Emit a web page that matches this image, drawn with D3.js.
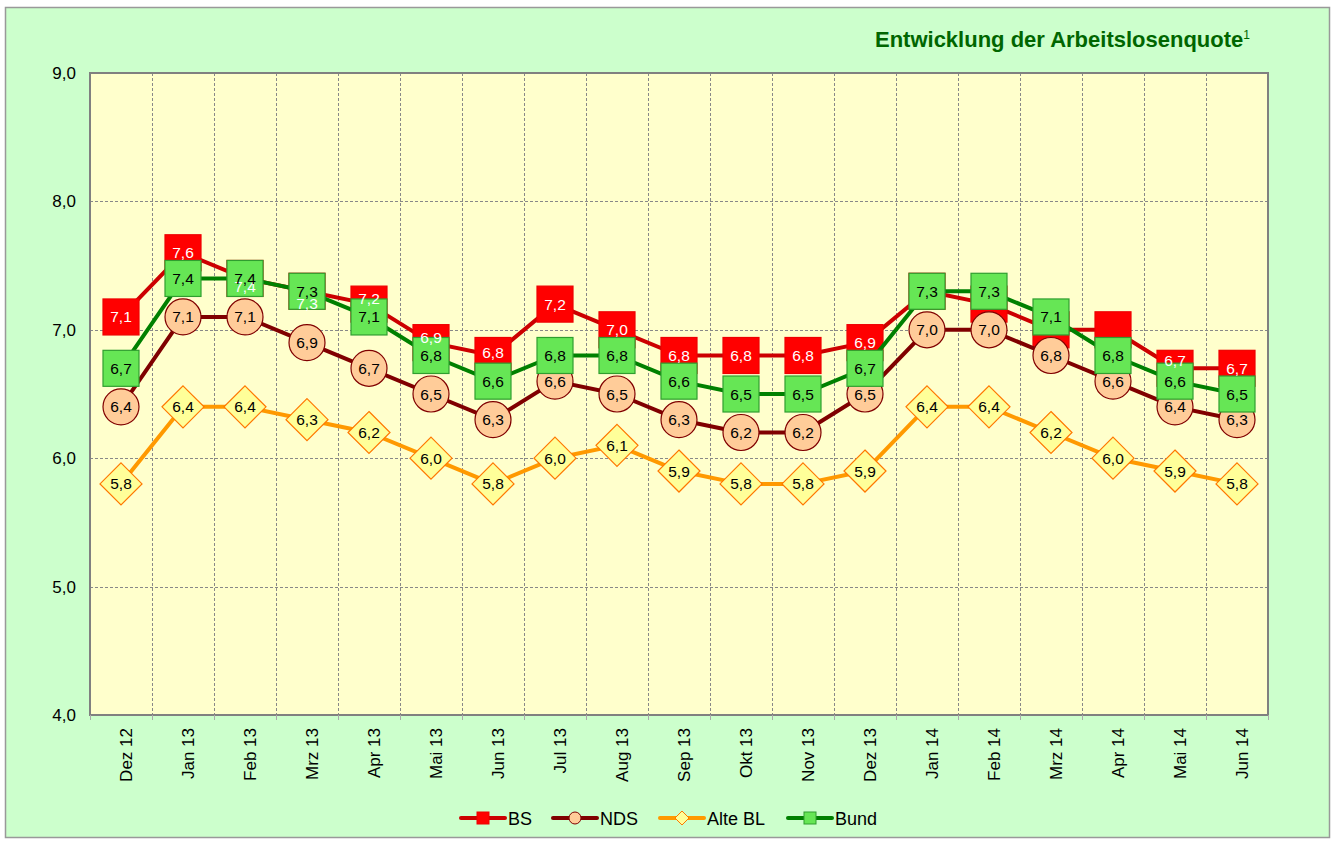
<!DOCTYPE html>
<html>
<head>
<meta charset="utf-8">
<script src="https://cdn.jsdelivr.net/npm/d3@7"></script>
<style>
  body { margin: 0; background: #fff; }
  svg text { font-family: "Liberation Sans", Arial, sans-serif; }
</style>
</head>
<body>
<svg id="chart" width="1334" height="843"></svg>
<script>
// categories and values
var months = ["Dez 12", "Jan 13", "Feb 13", "Mrz 13", "Apr 13", "Mai 13", "Jun 13", "Jul 13", "Aug 13",
  "Sep 13", "Okt 13", "Nov 13", "Dez 13", "Jan 14", "Feb 14", "Mrz 14", "Apr 14", "Mai 14", "Jun 14"];
var bs     = [7.1, 7.6, 7.4, 7.3, 7.2, 6.9, 6.8, 7.2, 7.0, 6.8, 6.8, 6.8, 6.9, 7.3, 7.2, 7.0, 7.0, 6.7, 6.7];
var nds    = [6.4, 7.1, 7.1, 6.9, 6.7, 6.5, 6.3, 6.6, 6.5, 6.3, 6.2, 6.2, 6.5, 7.0, 7.0, 6.8, 6.6, 6.4, 6.3];
var alteBL = [5.8, 6.4, 6.4, 6.3, 6.2, 6.0, 5.8, 6.0, 6.1, 5.9, 5.8, 5.8, 5.9, 6.4, 6.4, 6.2, 6.0, 5.9, 5.8];
var bund   = [6.7, 7.4, 7.4, 7.3, 7.1, 6.8, 6.6, 6.8, 6.8, 6.6, 6.5, 6.5, 6.7, 7.3, 7.3, 7.1, 6.8, 6.6, 6.5];
var yTicks = [4, 5, 6, 7, 8, 9];

// BS labels that the original leaves out (covered by Bund) and ones nudged off centre
var bsHidden = {13: true, 14: true, 15: true, 16: true};
var bsNudge = {2: 8, 3: 12, 4: -6, 5: -5, 6: -3, 17: -8};

var series = [
  {name: "BS", values: bs, line: "#cc0000", fill: "#ff0000", stroke: "#ee0000", shape: "square", text: "#fff"},
  {name: "NDS", values: nds, line: "#800000", fill: "#ffcc99", stroke: "#800000", shape: "circle", text: "#000"},
  {name: "Alte BL", values: alteBL, line: "#ff9900", fill: "#ffff99", stroke: "#ff7700", shape: "diamond", text: "#000"},
  {name: "Bund", values: bund, line: "#008000", fill: "#66e655", stroke: "#2f9e2f", shape: "square", text: "#000"}
];

var svg = d3.select("#chart");
var plot = {left: 90, top: 73, right: 1268, bottom: 715};

var fmt = function(v) { return d3.format(".1f")(v).replace(".", ","); };

// chart area background
svg.append("rect").attr("x", 5.5).attr("y", 7.5).attr("width", 1324).attr("height", 830)
  .attr("fill", "#ccffcc").attr("stroke", "#999").attr("stroke-width", 1.5);

svg.append("rect").attr("x", plot.left).attr("y", plot.top)
  .attr("width", plot.right - plot.left).attr("height", plot.bottom - plot.top)
  .attr("fill", "#ffffcc");

var x = d3.scaleBand().domain(months).range([plot.left, plot.right]);
var y = d3.scaleLinear().domain([4, 9]).range([plot.bottom, plot.top]);
var cx = function(i) { return x(months[i]) + x.bandwidth() / 2; };

// grid
var grid = svg.append("g").attr("stroke", "#888").attr("stroke-width", 1).attr("stroke-dasharray", "3,2");
grid.selectAll("line.h").data(yTicks.filter(function(d) { return d > 4 && d < 9; }))
  .enter().append("line")
  .attr("x1", plot.left).attr("x2", plot.right)
  .attr("y1", function(d) { return Math.round(y(d)) + 0.5; })
  .attr("y2", function(d) { return Math.round(y(d)) + 0.5; });
grid.selectAll("line.v").data(months.slice(1))
  .enter().append("line")
  .attr("y1", plot.top).attr("y2", plot.bottom)
  .attr("x1", function(d) { return Math.round(x(d)) + 0.5; })
  .attr("x2", function(d) { return Math.round(x(d)) + 0.5; });

// plot frame
svg.append("rect").attr("x", plot.left).attr("y", plot.top)
  .attr("width", plot.right - plot.left).attr("height", plot.bottom - plot.top)
  .attr("fill", "none").attr("stroke", "#808080").attr("stroke-width", 2);

// y axis labels
svg.append("g").selectAll("text").data(yTicks).enter().append("text")
  .attr("x", 76).attr("y", function(d) { return y(d) + 6; })
  .attr("text-anchor", "end").attr("font-size", 17).attr("fill", "#000")
  .text(fmt);

// x ticks + rotated labels
svg.append("g").selectAll("line").data(months.concat(["end"])).enter().append("line")
  .attr("x1", function(d, i) { return Math.round(plot.left + i * x.bandwidth()) + 0.5; })
  .attr("x2", function(d, i) { return Math.round(plot.left + i * x.bandwidth()) + 0.5; })
  .attr("y1", plot.bottom).attr("y2", plot.bottom + 5)
  .attr("stroke", "#aaa");
svg.append("g").selectAll("text").data(months).enter().append("text")
  .attr("transform", function(d, i) { return "translate(" + (cx(i) + 11) + "," + (plot.bottom + 13) + ") rotate(-90)"; })
  .attr("text-anchor", "end").attr("font-size", 17).attr("fill", "#000")
  .text(function(d) { return d; });

function drawMarker(g, shape, px, py, s) {
  var m;
  if (shape === "square") {
    m = g.append("rect").attr("x", px - 18).attr("y", py - 18).attr("width", 36).attr("height", 36);
  } else if (shape === "circle") {
    m = g.append("circle").attr("cx", px).attr("cy", py).attr("r", 18);
  } else {
    m = g.append("path").attr("d", "M" + px + "," + (py - 21) + "L" + (px + 21) + "," + py +
      "L" + px + "," + (py + 21) + "L" + (px - 21) + "," + py + "Z");
  }
  return m.attr("fill", s.fill).attr("stroke", s.stroke).attr("stroke-width", 1.2);
}

var line = d3.line().x(function(d, i) { return cx(i); }).y(function(d) { return y(d); });

series.forEach(function(s) {
  var g = svg.append("g");
  g.append("path").datum(s.values).attr("d", line)
    .attr("fill", "none").attr("stroke", s.line).attr("stroke-width", 4).attr("stroke-linejoin", "round");
  s.values.forEach(function(v, i) { drawMarker(g, s.shape, cx(i), y(v), s); });
});

// data labels on top of everything
series.forEach(function(s) {
  var isBS = s.name === "BS";
  var pts = s.values.map(function(v, i) { return {v: v, i: i}; })
    .filter(function(p) { return !(isBS && bsHidden[p.i]); });
  svg.append("g").selectAll("text").data(pts).enter().append("text")
    .attr("x", function(p) { return cx(p.i); })
    .attr("y", function(p) { return y(p.v) + 5.5 + (isBS && bsNudge[p.i] ? bsNudge[p.i] : 0); })
    .attr("text-anchor", "middle").attr("font-size", 15.5).attr("fill", s.text)
    .text(function(p) { return fmt(p.v); });
});

// title
var title = svg.append("text").attr("x", 1250).attr("y", 47).attr("text-anchor", "end")
  .attr("font-size", 22).attr("font-weight", "bold").attr("fill", "#006600");
title.append("tspan").text("Entwicklung der Arbeitslosenquote");
title.append("tspan").attr("font-size", 12).attr("font-weight", "normal").attr("dy", -8).text("1");

// legend
var legendX = [461, 553, 660, 788];
var legend = svg.append("g");
series.forEach(function(s, i) {
  var lx = legendX[i], ly = 818;
  legend.append("line").attr("x1", lx).attr("x2", lx + 44).attr("y1", ly).attr("y2", ly)
    .attr("stroke", s.line).attr("stroke-width", 4).attr("stroke-linecap", "round");
  var m;
  if (s.shape === "square") {
    m = legend.append("rect").attr("x", lx + 16).attr("y", ly - 6).attr("width", 12).attr("height", 12);
  } else if (s.shape === "circle") {
    m = legend.append("circle").attr("cx", lx + 22).attr("cy", ly).attr("r", 6);
  } else {
    m = legend.append("path").attr("d", "M" + (lx + 22) + "," + (ly - 7) + "l7,7l-7,7l-7,-7z");
  }
  m.attr("fill", s.fill).attr("stroke", s.stroke).attr("stroke-width", 1);
  legend.append("text").attr("x", lx + 47).attr("y", ly + 6.5).attr("font-size", 18).attr("fill", "#000")
    .text(s.name);
});
</script>
</body>
</html>
